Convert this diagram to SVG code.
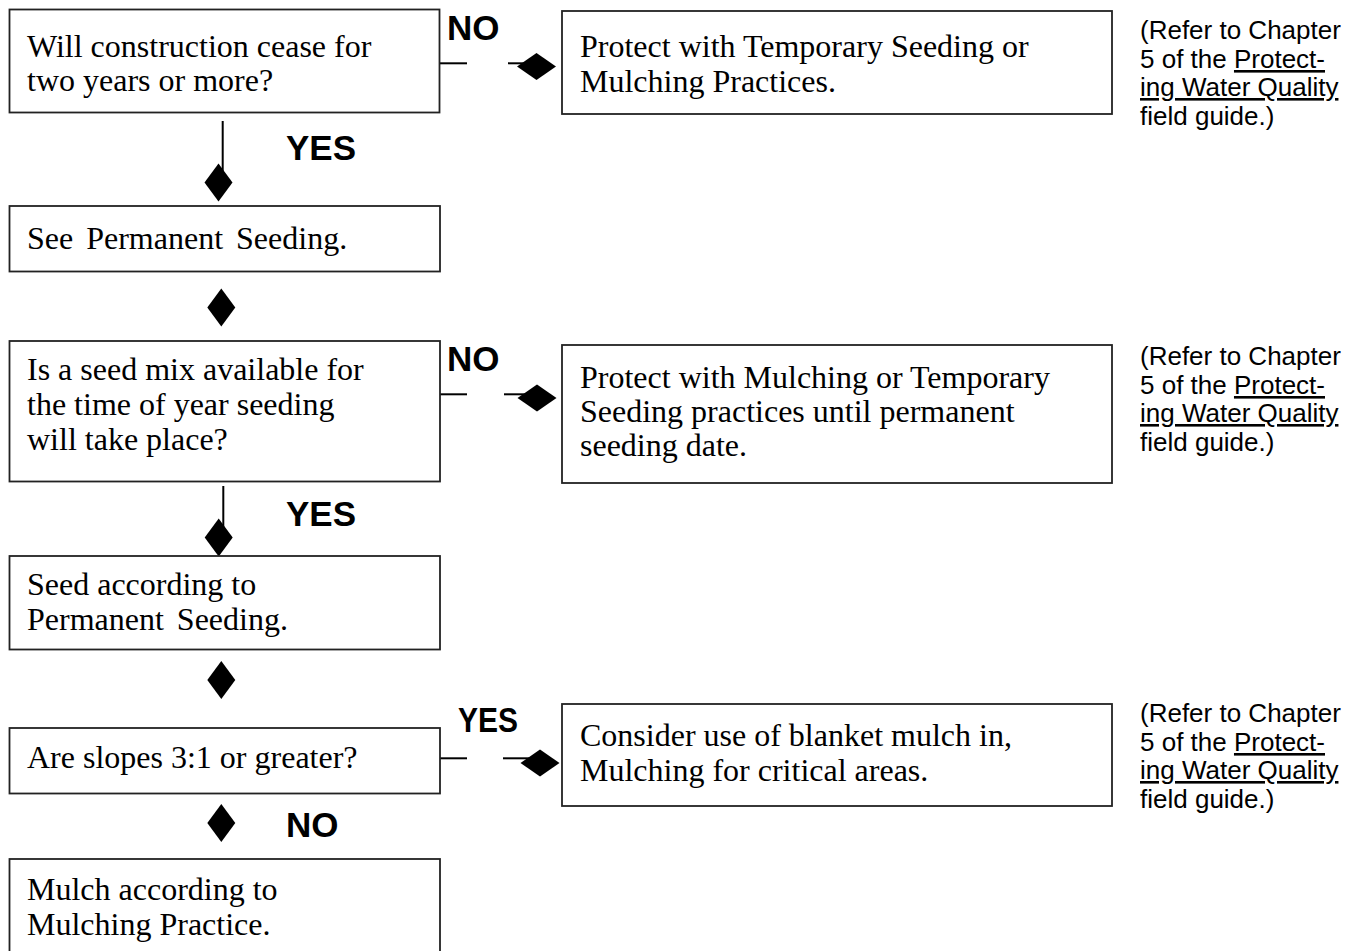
<svg xmlns="http://www.w3.org/2000/svg" width="1362" height="951" viewBox="0 0 1362 951">
  <style>
    .box { fill: #ffffff; stroke: #222222; stroke-width: 1.8; }
    .t { font-family: "Liberation Serif", "Times New Roman", serif; font-size: 32px; fill: #000000; }
    .ws { word-spacing: 5px; }
    .lbl { font-family: "Liberation Sans", Arial, sans-serif; font-size: 35px; font-weight: bold; fill: #000000; }
    .note { font-family: "Liberation Sans", Arial, sans-serif; font-size: 26px; fill: #000000; }
    .u { text-decoration: underline; }
    .ln { stroke: #000000; stroke-width: 2; fill: none; }
    .dia { fill: #000000; }
  </style>
  <defs>
    <path id="dv" d="M0,-19 L14,0 L0,19 L-14,0 Z"/>
    <path id="dh" d="M-19.5,0 L0,-13.5 L19.5,0 L0,13.5 Z"/>
  </defs>

  <rect width="1362" height="951" fill="#ffffff"/>

  <!-- connectors -->
  <g id="connectors">
    <line class="ln" x1="222.7" y1="121" x2="222.7" y2="176"/>
    <use class="dia" href="#dv" x="218.5" y="182.5"/>
    <use class="dia" href="#dv" x="221.3" y="307.5"/>
    <line class="ln" x1="223.3" y1="486" x2="223.3" y2="530"/>
    <use class="dia" href="#dv" x="218.7" y="537.5"/>
    <use class="dia" href="#dv" x="221.3" y="680"/>
    <use class="dia" href="#dv" x="221.3" y="823"/>

    <line class="ln" x1="440" y1="63.3" x2="467" y2="63.3"/>
    <line class="ln" x1="508" y1="63.3" x2="526" y2="63.3"/>
    <use class="dia" href="#dh" x="536.5" y="66.5"/>

    <line class="ln" x1="440" y1="394.3" x2="467" y2="394.3"/>
    <line class="ln" x1="504" y1="394.3" x2="526" y2="394.3"/>
    <use class="dia" href="#dh" x="537" y="398"/>

    <line class="ln" x1="440" y1="758.3" x2="467" y2="758.3"/>
    <line class="ln" x1="503" y1="758.3" x2="529" y2="758.3"/>
    <use class="dia" href="#dh" x="540" y="763"/>

    <text class="lbl" x="447" y="40">NO</text>
    <text class="lbl" x="286" y="160">YES</text>
    <text class="lbl" x="447" y="371">NO</text>
    <text class="lbl" x="286" y="526">YES</text>
    <text class="lbl" x="458" y="732" textLength="60" lengthAdjust="spacingAndGlyphs">YES</text>
    <text class="lbl" x="286" y="837">NO</text>
  </g>

  <!-- left column -->
  <g id="q-cease">
    <rect class="box" x="9.5" y="9.5" width="430" height="103"/>
    <text class="t" x="27" y="57">Will construction cease for</text>
    <text class="t" x="27" y="91">two years or more?</text>
  </g>
  <g id="see-permanent">
    <rect class="box" x="9.5" y="206" width="430.5" height="65.5"/>
    <text class="t ws" x="27" y="249">See Permanent Seeding.</text>
  </g>
  <g id="q-seed-mix">
    <rect class="box" x="9.5" y="341" width="430.5" height="140.5"/>
    <text class="t" x="27" y="380">Is a seed mix available for</text>
    <text class="t" x="27" y="415">the time of year seeding</text>
    <text class="t" x="27" y="450">will take place?</text>
  </g>
  <g id="seed-according">
    <rect class="box" x="9.5" y="556" width="430.5" height="93.5"/>
    <text class="t" x="27" y="595">Seed according to</text>
    <text class="t ws" x="27" y="630">Permanent Seeding.</text>
  </g>
  <g id="q-slopes">
    <rect class="box" x="9.5" y="728" width="430.5" height="65.5"/>
    <text class="t" x="27" y="768">Are slopes 3:1 or greater?</text>
  </g>
  <g id="mulch-according">
    <rect class="box" x="9.5" y="859" width="430.5" height="110"/>
    <text class="t" x="27" y="900">Mulch according to</text>
    <text class="t" x="27" y="935">Mulching Practice.</text>
  </g>

  <!-- right column -->
  <g id="protect-temp">
    <rect class="box" x="562" y="11" width="550" height="103"/>
    <text class="t" x="580" y="57">Protect with Temporary Seeding or</text>
    <text class="t" x="580" y="92">Mulching Practices.</text>
  </g>
  <g id="protect-mulch">
    <rect class="box" x="562" y="345" width="550" height="138"/>
    <text class="t" x="580" y="388">Protect with Mulching or Temporary</text>
    <text class="t" x="580" y="422">Seeding practices until permanent</text>
    <text class="t" x="580" y="456">seeding date.</text>
  </g>
  <g id="blanket-mulch">
    <rect class="box" x="562" y="704" width="550" height="102"/>
    <text class="t" x="580" y="746">Consider use of blanket mulch in,</text>
    <text class="t" x="580" y="781">Mulching for critical areas.</text>
  </g>

  <!-- reference notes -->
  <g id="note-1">
    <text class="note" x="1140" y="39">(Refer to Chapter</text>
    <text class="note" x="1140" y="68">5 of the <tspan class="u">Protect-</tspan></text>
    <text class="note" x="1140" y="96"><tspan class="u">ing Water Quality</tspan></text>
    <text class="note" x="1140" y="125">field guide.)</text>
  </g>
  <g id="note-2">
    <text class="note" x="1140" y="365">(Refer to Chapter</text>
    <text class="note" x="1140" y="394">5 of the <tspan class="u">Protect-</tspan></text>
    <text class="note" x="1140" y="422"><tspan class="u">ing Water Quality</tspan></text>
    <text class="note" x="1140" y="451">field guide.)</text>
  </g>
  <g id="note-3">
    <text class="note" x="1140" y="722">(Refer to Chapter</text>
    <text class="note" x="1140" y="751">5 of the <tspan class="u">Protect-</tspan></text>
    <text class="note" x="1140" y="779"><tspan class="u">ing Water Quality</tspan></text>
    <text class="note" x="1140" y="808">field guide.)</text>
  </g>
</svg>
